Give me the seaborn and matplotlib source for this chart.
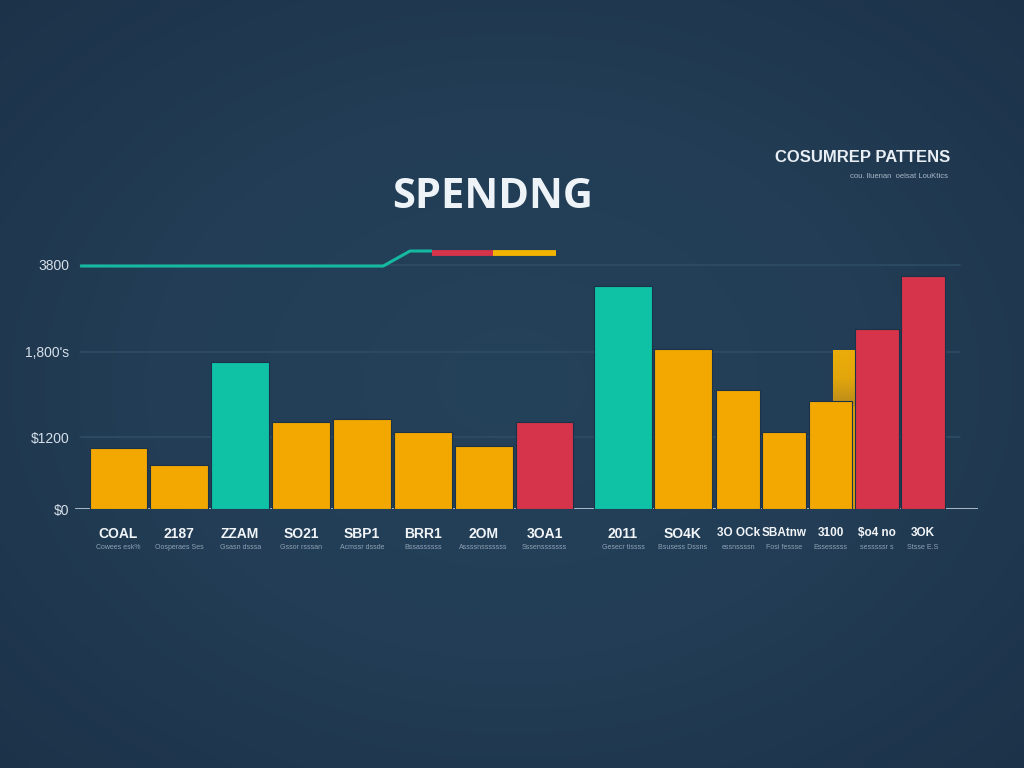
import numpy as np
import matplotlib
matplotlib.use("Agg")
import matplotlib.pyplot as plt
from matplotlib.colors import LinearSegmentedColormap
import seaborn as sns
import pandas as pd

# ---------------- data ----------------
group1_labels = ["COAL", "2187", "ZZAM", "SO21", "SBP1", "BRR1", "2OM", "3OA1"]
group1_sub = ["Cowees esk%", "Oosperaes Ses", "Gsasn dsssa", "Gssor rsssan",
              "Acmssr dssde", "Bssassssss", "Assssnsssssss", "Sssensssssss"]
group1_values = [950, 685, 2290, 1355, 1400, 1200, 980, 1355]
group1_kind = ["orange", "orange", "teal", "orange", "orange", "orange", "orange", "red"]

group2a_labels = ["2011", "SO4K"]
group2a_sub = ["Gesecr tissss", "Bsusess Dssns"]
group2a_values = [3470, 2490]
group2a_kind = ["teal", "orange"]

group2b_labels = ["3O OCk", "SBAtnw", "3100", "$o4 no", "3OK"]
group2b_sub = ["essnssssn", "Fosi fessse", "Essesssss", "sesssssr s", "Stsse E.S"]
group2b_values = [1850, 1200, 1680, 2800, 3630]
group2b_kind = ["orange", "orange", "orange", "red", "red"]
hidden_value = 2475

ytick_values = [0, 1120, 2445, 3800]
ytick_labels = ["$0", "$1200", "1,800's", "3800"]

trend_teal_x = [-0.63, 4.35, 4.79, 5.15]
trend_teal_y = [3783, 3783, 4017, 4017]
trend_red_x = [5.15, 6.15]
trend_red_y = [3986, 3986]
trend_yellow_x = [6.15, 7.19]
trend_yellow_y = [3986, 3986]

title = "SPENDNG"
corner_title = "COSUMREP PATTENS"
corner_sub = "cou. lluenan  oelsat LouKtics"

# ---------------- style ----------------
COLORS = {"orange": "#F2A800", "teal": "#10C2A5", "red": "#D6344A"}
BG = "#213c53"
sns.set_style("dark")
plt.rcParams["font.family"] = ["Liberation Sans", "DejaVu Sans"]

W, H = 1024, 768
fig = plt.figure(figsize=(W / 100, H / 100), dpi=100)
fig.patch.set_facecolor(BG)


def frac(l, r, top, bottom):
    return [l / W, 1 - bottom / H, (r - l) / W, (bottom - top) / H]


# background vignette
bg_ax = fig.add_axes([0, 0, 1, 1], zorder=-10)
yy, xx = np.mgrid[0:1:300j, 0:1:400j]
dist = np.sqrt(((xx - 0.5) / 0.8) ** 2 + ((yy - 0.5) / 0.8) ** 2)
cmap_bg = LinearSegmentedColormap.from_list("bg", ["#25425b", "#223d55", "#1c3249"])
bg_ax.imshow(dist, cmap=cmap_bg, aspect="auto", extent=[0, 1, 0, 1], vmin=0, vmax=0.9)
bg_ax.set_axis_off()

YMAX = 4200
BASE = 509
TOP = BASE - YMAX / 15.57

# main axis: y ticks, grid, baseline
ax = fig.add_axes(frac(75, 978, TOP, BASE))
ax.set_facecolor("none")
ax.set_xlim(0, 1)
ax.set_ylim(0, YMAX)
for s in ax.spines.values():
    s.set_visible(False)
ax.set_xticks([])
ax.set_yticks(ytick_values)
ax.set_yticklabels(ytick_labels)
ax.tick_params(axis="y", length=0, pad=4, labelsize=10, labelcolor="#d5dfe8")
ax.grid(False)
for v in ytick_values[1:]:
    ax.axhline(v, xmin=(80 - 75) / 903, xmax=(960 - 75) / 903, color="#2e4c65", lw=1.2, zorder=0)
ax.axhline(0, 0, 1, color="#d3dfea", lw=1.8, zorder=5)


def bar_group(box, labels, subs, values, kinds, width, fs=10):
    a = fig.add_axes(frac(box[0], box[1], TOP, BASE))
    a.set_facecolor("none")
    df = pd.DataFrame({"label": labels, "value": values})
    sns.barplot(data=df, x="label", y="value", hue="label", order=labels, hue_order=labels,
                palette=[COLORS[k] for k in kinds], legend=False, width=width,
                edgecolor="#1c3248", linewidth=0.8, saturation=1, ax=a)
    a.set_xlim(-0.5, len(labels) - 0.5)
    a.set_ylim(0, YMAX)
    for s in a.spines.values():
        s.set_visible(False)
    a.set_yticks([])
    a.set_xlabel("")
    a.set_ylabel("")
    a.grid(False)
    a.tick_params(axis="x", length=0, pad=13, labelsize=fs, labelcolor="#f2f5f8")
    for t in a.get_xticklabels():
        t.set_fontweight("bold")
    for i, s in enumerate(subs):
        a.annotate(s, xy=(i, 0), xycoords=("data", "axes fraction"), xytext=(0, -27.5),
                   textcoords="offset points", ha="center", va="center",
                   fontsize=5, color="#8ea2b4")
    return a


axA = bar_group((88, 575), group1_labels, group1_sub, group1_values, group1_kind, 0.95)
axB1 = bar_group((593, 713), group2a_labels, group2a_sub, group2a_values, group2a_kind, 0.96)
axB2 = bar_group((715, 946), group2b_labels, group2b_sub, group2b_values, group2b_kind, 0.95, fs=8.5)

# hidden bar behind (gradient gold)
hb = axB2.bar(2.37, hidden_value, width=0.63, color="#d89f10", zorder=0.5, linewidth=0)[0]
grad = np.linspace(0, 1, 100).reshape(-1, 1)
cmap_g = LinearSegmentedColormap.from_list("g", ["#b98a1c", "#e3a70c", "#eaac08"])
im = axB2.imshow(grad, cmap=cmap_g, aspect="auto", origin="lower",
                 extent=[2.37 - 0.315, 2.37 + 0.315, 1600, hidden_value], zorder=0.6)
im.set_clip_path(hb)
axB2.set_xlim(-0.5, 4.5)
axB2.set_ylim(0, YMAX)

# trend line
axA.plot(trend_teal_x, trend_teal_y, color="#14b9a0", lw=2.2, clip_on=False, zorder=6,
         solid_capstyle="butt")
axA.plot(trend_red_x, trend_red_y, color="#d6344a", lw=4.2, clip_on=False, zorder=6,
         solid_capstyle="butt")
axA.plot(trend_yellow_x, trend_yellow_y, color="#f2b400", lw=4.2, clip_on=False, zorder=6,
         solid_capstyle="butt")

# titles
fig.text(493 / W, 1 - 197 / H, title, ha="center", va="center", fontsize=30,
         fontweight="bold", color="#eef3f7", family=["Open Sans", "DejaVu Sans"])
fig.text(950 / W, 1 - 157 / H, corner_title, ha="right", va="center", fontsize=12,
         fontweight="bold", color="#e8eef3")
fig.text(948 / W, 1 - 176 / H, corner_sub, ha="right", va="center", fontsize=5.5,
         color="#a9b8c6")

fig.savefig("out.png", dpi=100, facecolor=fig.get_facecolor())
